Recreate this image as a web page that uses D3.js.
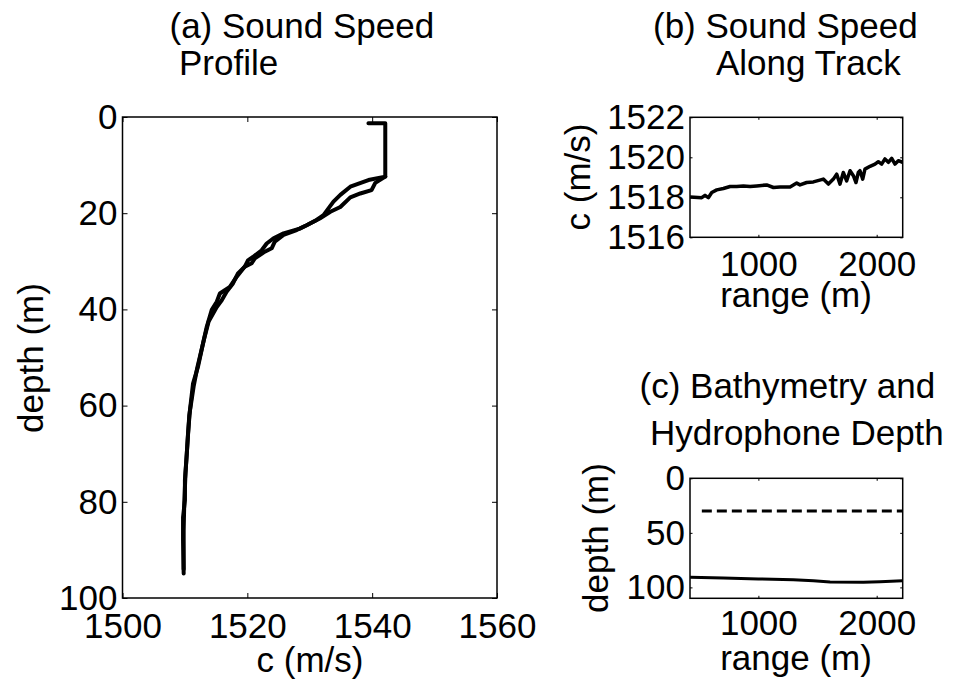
<!DOCTYPE html>
<html>
<head>
<meta charset="utf-8">
<title>Sound Speed, Bathymetry and Hydrophone Depth</title>
<script src="https://cdn.jsdelivr.net/npm/d3@7"></script>
<style>
  body { margin: 0; background: #fff; }
  svg { display: block; font-family: "Liberation Sans", Arial, Helvetica, sans-serif; }
  .tick line { stroke: #000; stroke-width: 1; }
  .tick text { font-size: 35px; fill: #000; }
  .label { font-size: 35px; fill: #000; }
</style>
</head>
<body>
<div id="chart"></div>
<script>
/* =======================================================================
   Sound speed profile, sound speed along track, bathymetry
   ======================================================================= */

/* Data
======================================================================= */

// (a) Sound speed profile, down cast (depth in m, speed in m/s)
var castDownDepth = [1.3, 1.3, 12.4, 13.1, 14.5, 16.2, 17.6, 19.0, 20.4, 21.4,
                     22.5, 23.2, 24.2, 25.2, 26.3, 27.7, 29.1, 29.8, 31.1, 33.2,
                     35.3, 36.7, 38.4, 40.1, 43.6, 47.1, 51.9, 55.4, 61.0, 65.8,
                     70.0, 75.5, 79.7, 83.2, 88.0, 94.9];
var castDownSpeed = [1539.4, 1542.1, 1542.1, 1539.4, 1536.5, 1534.9, 1533.8, 1533.0, 1532.2, 1531.1,
                     1529.5, 1528.4, 1525.8, 1524.2, 1523.1, 1522.3, 1520.9, 1520.1, 1519.6, 1518.3,
                     1517.2, 1515.6, 1515.1, 1514.3, 1513.5, 1512.9, 1512.1, 1511.3, 1510.8, 1510.5,
                     1510.3, 1510.0, 1510.0, 1509.7, 1509.7, 1509.8];

// (a) Sound speed profile, up cast
var castUpDepth = [12.4, 13.7, 15.2, 15.9, 16.7, 18.7, 19.7, 21.1, 22.5, 23.5,
                   24.5, 25.9, 27.3, 28.0, 29.4, 30.4, 31.1, 32.5, 34.6, 36.3,
                   38.1, 39.5, 42.5, 46.0, 52.0, 56.0, 62.0, 68.0, 74.0, 80.0,
                   86.0, 94.0];
var castUpSpeed = [1542.1, 1540.5, 1539.9, 1538.1, 1536.5, 1534.9, 1533.3, 1531.6, 1529.5, 1527.9,
                   1525.8, 1524.4, 1523.9, 1522.8, 1521.2, 1520.7, 1519.6, 1518.5, 1517.7, 1516.7,
                   1515.9, 1515.1, 1513.8, 1513.1, 1512.0, 1511.4, 1510.7, 1510.4, 1510.1, 1509.9,
                   1509.8, 1509.8];

// (b) Sound speed along track (range in m, speed in m/s)
var trackRange = [423, 521, 549, 577, 606, 648, 704, 761, 817, 873,
                  930, 986, 1070, 1127, 1183, 1268, 1324, 1352, 1408, 1465,
                  1549, 1592, 1634, 1662, 1690, 1718, 1746, 1775, 1803, 1825,
                  1845, 1859, 1882, 1901, 1944, 1986, 2014, 2042, 2070, 2099,
                  2127, 2155, 2183, 2219];
var trackSpeed = [1518.02, 1517.98, 1518.10, 1517.98, 1518.24, 1518.37, 1518.44, 1518.54, 1518.54, 1518.57,
                  1518.54, 1518.57, 1518.62, 1518.49, 1518.52, 1518.52, 1518.71, 1518.62, 1518.74, 1518.77,
                  1518.91, 1518.66, 1518.91, 1519.16, 1518.66, 1519.24, 1518.82, 1519.33, 1519.08, 1518.74,
                  1519.24, 1519.33, 1518.91, 1519.41, 1519.55, 1519.66, 1519.78, 1519.66, 1519.92, 1519.75,
                  1519.95, 1519.66, 1519.83, 1519.75];

// (c) Bathymetry (water depth) and hydrophone depth along track
var bathyRange = [423, 704, 1000, 1296, 1465, 1606, 1887, 2028, 2219];
var bathyDepth = [90.8, 91.4, 92.3, 93.0, 93.9, 95.1, 95.4, 94.8, 93.9];
var hydroRange = [522, 2219];
var hydroDepth = [30, 30];

// Axis limits and ticks
var speedDomainA = [1500, 1560],
    depthDomainA = [0, 100],
    rangeDomain = [422, 2220],
    speedDomainB = [1516, 1522],
    depthDomainC = [0, 110];

var speedTicksA = [1500, 1520, 1540, 1560],
    depthTicksA = [0, 20, 40, 60, 80, 100],
    rangeTicks = [1000, 2000],
    speedTicksB = [1516, 1518, 1520, 1522],
    depthTicksC = [0, 50, 100];

/* Layout
======================================================================= */
var W = 955, H = 684,
    fmt = d3.format('d'); // plain integers, no thousands separator

var svg = d3.select('#chart').append('svg')
  .attr('width', W)
  .attr('height', H);

svg.append('rect').attr('width', W).attr('height', H).attr('fill', '#fff');

/**
 * Draw one MATLAB-style axes box with inward ticks on all four sides
 */
function drawAxes(o) {
  var g = svg.append('g').attr('transform', 'translate(' + o.left + ',' + o.top + ')');
  var tl = o.tickLen;

  // Bottom ticks with labels
  g.append('g').attr('transform', 'translate(0,' + o.height + ')')
    .call(d3.axisBottom(o.x).tickValues(o.xTicks).tickFormat(fmt)
      .tickSizeInner(-tl).tickSizeOuter(0).tickPadding(o.xPad))
    .call(function(s) { s.select('.domain').remove(); });

  // Top ticks, no labels
  g.append('g')
    .call(d3.axisTop(o.x).tickValues(o.xTicks).tickSizeInner(-tl).tickSizeOuter(0).tickFormat(''))
    .call(function(s) { s.select('.domain').remove(); });

  // Left ticks with labels
  g.append('g')
    .call(d3.axisLeft(o.y).tickValues(o.yTicks).tickFormat(fmt)
      .tickSizeInner(-tl).tickSizeOuter(0).tickPadding(5))
    .call(function(s) { s.select('.domain').remove(); });

  // Right ticks, no labels
  g.append('g').attr('transform', 'translate(' + o.width + ',0)')
    .call(d3.axisRight(o.y).tickValues(o.yTicks).tickSizeInner(-tl).tickSizeOuter(0).tickFormat(''))
    .call(function(s) { s.select('.domain').remove(); });

  g.selectAll('g').attr('font-family', null).attr('font-size', null);

  // Clip region for the data lines
  svg.append('clipPath').attr('id', o.id + '-clip')
    .append('rect').attr('width', o.width).attr('height', o.height);

  var plot = g.append('g').attr('clip-path', 'url(#' + o.id + '-clip)');

  // Box around the axes
  g.append('rect')
    .attr('width', o.width)
    .attr('height', o.height)
    .attr('fill', 'none')
    .attr('stroke', '#000')
    .attr('stroke-width', 1.5);

  return plot;
}

/**
 * Add a text label in page coordinates
 */
function addText(str, x, y, anchor, rotate) {
  var t = svg.append('text')
    .attr('class', 'label')
    .attr('text-anchor', anchor || 'start')
    .text(str);
  if (rotate) {
    t.attr('transform', 'translate(' + x + ',' + y + ') rotate(-90)');
  } else {
    t.attr('x', x).attr('y', y);
  }
  return t;
}

function zip(a, b) {
  return a.map(function(v, i) { return [v, b[i]]; });
}

/* (a) Sound Speed Profile
======================================================================= */
var boxA = { id: 'a', left: 122.5, top: 117, width: 374.5, height: 481 };
boxA.x = d3.scaleLinear().domain(speedDomainA).range([0, boxA.width]);
boxA.y = d3.scaleLinear().domain(depthDomainA).range([0, boxA.height]);
boxA.xTicks = speedTicksA; boxA.yTicks = depthTicksA;
boxA.tickLen = 5; boxA.xPad = 15;

var plotA = drawAxes(boxA);
var lineA = d3.line().x(function(d) { return boxA.x(d[0]); }).y(function(d) { return boxA.y(d[1]); });

[zip(castDownSpeed, castDownDepth), zip(castUpSpeed, castUpDepth)].forEach(function(c) {
  plotA.append('path')
    .attr('d', lineA(c))
    .attr('fill', 'none')
    .attr('stroke', '#000')
    .attr('stroke-width', 4)
    .attr('stroke-linejoin', 'round')
    .attr('stroke-linecap', 'round');
});

addText('(a) Sound Speed', 169.5, 38);
addText('Profile', 179, 75);
addText('c (m/s)', 310, 672, 'middle');
addText('depth (m)', 43, 358, 'middle', true);

/* (b) Sound Speed Along Track
======================================================================= */
var boxB = { id: 'b', left: 690, top: 117.3, width: 212.7, height: 120 };
boxB.x = d3.scaleLinear().domain(rangeDomain).range([0, boxB.width]);
boxB.y = d3.scaleLinear().domain(speedDomainB).range([boxB.height, 0]);
boxB.xTicks = rangeTicks; boxB.yTicks = speedTicksB;
boxB.tickLen = 2.5; boxB.xPad = 14;

var plotB = drawAxes(boxB);
var lineB = d3.line().x(function(d) { return boxB.x(d[0]); }).y(function(d) { return boxB.y(d[1]); });

plotB.append('path')
  .attr('d', lineB(zip(trackRange, trackSpeed)))
  .attr('fill', 'none')
  .attr('stroke', '#000')
  .attr('stroke-width', 3.5)
  .attr('stroke-linejoin', 'round');

addText('(b) Sound Speed', 653, 38);
addText('Along Track', 716, 75);
addText('range (m)', 796, 307, 'middle');
addText('c (m/s)', 590, 177, 'middle', true);

/* (c) Bathymetry and Hydrophone Depth
======================================================================= */
var boxC = { id: 'c', left: 690, top: 478.3, width: 212.7, height: 120 };
boxC.x = d3.scaleLinear().domain(rangeDomain).range([0, boxC.width]);
boxC.y = d3.scaleLinear().domain(depthDomainC).range([0, boxC.height]);
boxC.xTicks = rangeTicks; boxC.yTicks = depthTicksC;
boxC.tickLen = 2.5; boxC.xPad = 12;

var plotC = drawAxes(boxC);
var lineC = d3.line().x(function(d) { return boxC.x(d[0]); }).y(function(d) { return boxC.y(d[1]); });

// Water depth (solid)
plotC.append('path')
  .attr('d', lineC(zip(bathyRange, bathyDepth)))
  .attr('fill', 'none')
  .attr('stroke', '#000')
  .attr('stroke-width', 3);

// Hydrophone depth (dashed)
plotC.append('path')
  .attr('d', lineC(zip(hydroRange, hydroDepth)))
  .attr('fill', 'none')
  .attr('stroke', '#000')
  .attr('stroke-width', 3)
  .attr('stroke-dasharray', '10,5');

addText('(c) Bathymetry and', 639.5, 398);
addText('Hydrophone Depth', 650, 445);
addText('range (m)', 796, 670, 'middle');
addText('depth (m)', 608, 538, 'middle', true);
</script>
</body>
</html>
